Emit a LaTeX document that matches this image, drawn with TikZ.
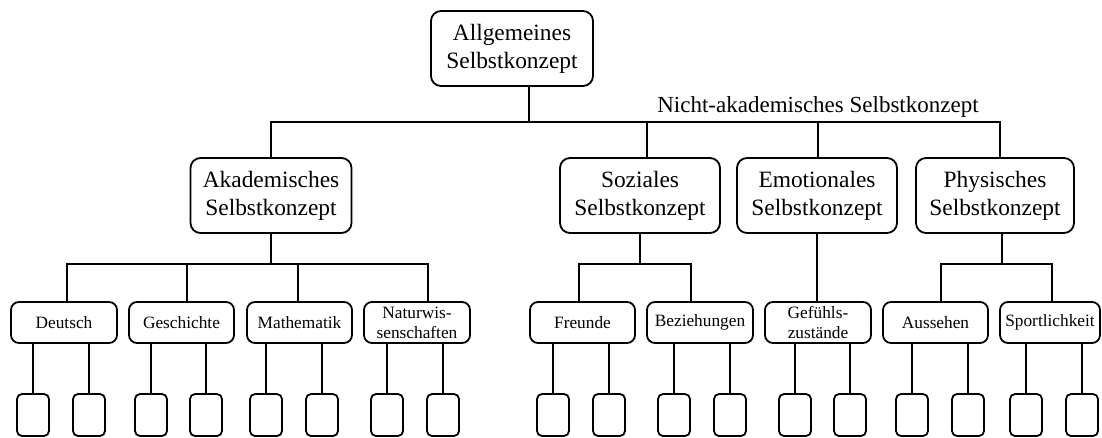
\documentclass[tikz,border=0pt]{standalone}
\usepackage{fontspec}
\setmainfont{Liberation Serif}
\begin{document}
\begin{tikzpicture}[x=1pt,y=-1pt,
  every node/.style={inner sep=0pt, outer sep=0pt},
  box/.style={draw, line width=1.8pt, rounded corners=#1, align=center},
  big/.style={box=10pt, font=\fontsize{23.4}{28}\selectfont, minimum height=75pt},
  mid/.style={box=8pt, font=\fontsize{17.3}{20}\selectfont, minimum height=41pt},
  leaf/.style={box=5pt, minimum width=32pt, minimum height=42pt},
  link/.style={line width=1.8pt},
  caption/.style={font=\fontsize{23}{28}\selectfont, anchor=base}]
\useasboundingbox (0,0) rectangle (1102,437);

% top level
\node[big, minimum width=162pt] (top) at (512,48.5) {Allgemeines\\Selbstkonzept};

% second level
\node[big, minimum width=161pt] (aka) at (271,195.5) {Akademisches\\Selbstkonzept};
\node[big, minimum width=160pt] (soz) at (640,195.5) {Soziales\\Selbstkonzept};
\node[big, minimum width=160pt] (emo) at (817,195.5) {Emotionales\\Selbstkonzept};
\node[big, minimum width=158pt] (phy) at (995,195.5) {Physisches\\Selbstkonzept};

\node[caption] (nak) at (818,112) {Nicht-akademisches Selbstkonzept};

% third level
\node[mid, minimum width=106pt] (deu) at (64,322.5) {Deutsch};
\node[mid, minimum width=105pt] (ges) at (181.5,322.5) {Geschichte};
\node[mid, minimum width=105pt] (mat) at (299.5,322.5) {Mathematik};
\node[mid, minimum width=106pt] (nat) at (417,322.5) {Naturwis-\\senschaften};
\node[mid, minimum width=105pt] (fre) at (582.5,322.5) {Freunde};
\node[mid, minimum width=106pt] (bez) at (700,322.5) {Beziehungen};
\node[mid, minimum width=106pt] (gef) at (818,322.5) {Gefühls-\\zustände};
\node[mid, minimum width=105pt] (aus) at (935.5,322.5) {Aussehen};
\node[mid, minimum width=100pt] (spo) at (1050,322.5) {Sportlichkeit};

% leaves: name / x / parent
\foreach \n/\x/\p in {d1/33/deu, d2/89/deu, g1/151/ges, g2/206/ges,
                      m1/266/mat, m2/322/mat, n1/387/nat, n2/443/nat,
                      f1/553/fre, f2/609/fre, b1/674/bez, b2/730/bez,
                      e1/795/gef, e2/850/gef, a1/912/aus, a2/968/aus,
                      s1/1026/spo, s2/1082/spo}{
  \node[leaf] (\n) at (\x,415) {};
  \draw[link] (\p.south -| \n.north) -- (\n.north);
}

% top level to second level
\coordinate (j0) at (529,122);
\draw[link] (top.south -| j0) -- (j0);
\draw[link] (aka.north) |- (j0) -| ([xshift=5pt]phy.north);
\draw[link] ([xshift=7pt]soz.north) -- ([xshift=7pt]soz.north |- j0);
\draw[link] ([xshift=1pt]emo.north) -- ([xshift=1pt]emo.north |- j0);

% academic branch
\coordinate (ja) at (271,264);
\draw[link] (aka.south) -- (ja);
\draw[link] ([xshift=3pt]deu.north) |- (ja) -| ([xshift=11pt]nat.north);
\draw[link] ([xshift=5.5pt]ges.north) -- ([xshift=5.5pt]ges.north |- ja);
\draw[link] ([xshift=-1.5pt]mat.north) -- ([xshift=-1.5pt]mat.north |- ja);

% social branch
\coordinate (js) at (640,264);
\draw[link] (soz.south) -- (js);
\draw[link] ([xshift=-3.5pt]fre.north) |- (js) -| ([xshift=-9pt]bez.north);

% emotional branch
\draw[link] (emo.south) -- (emo.south |- gef.north);

% physical branch
\coordinate (jp) at (1002,264);
\draw[link] (phy.south -| jp) -- (jp);
\draw[link] ([xshift=5.5pt]aus.north) |- (jp) -| ([xshift=2pt]spo.north);
\end{tikzpicture}
\end{document}
